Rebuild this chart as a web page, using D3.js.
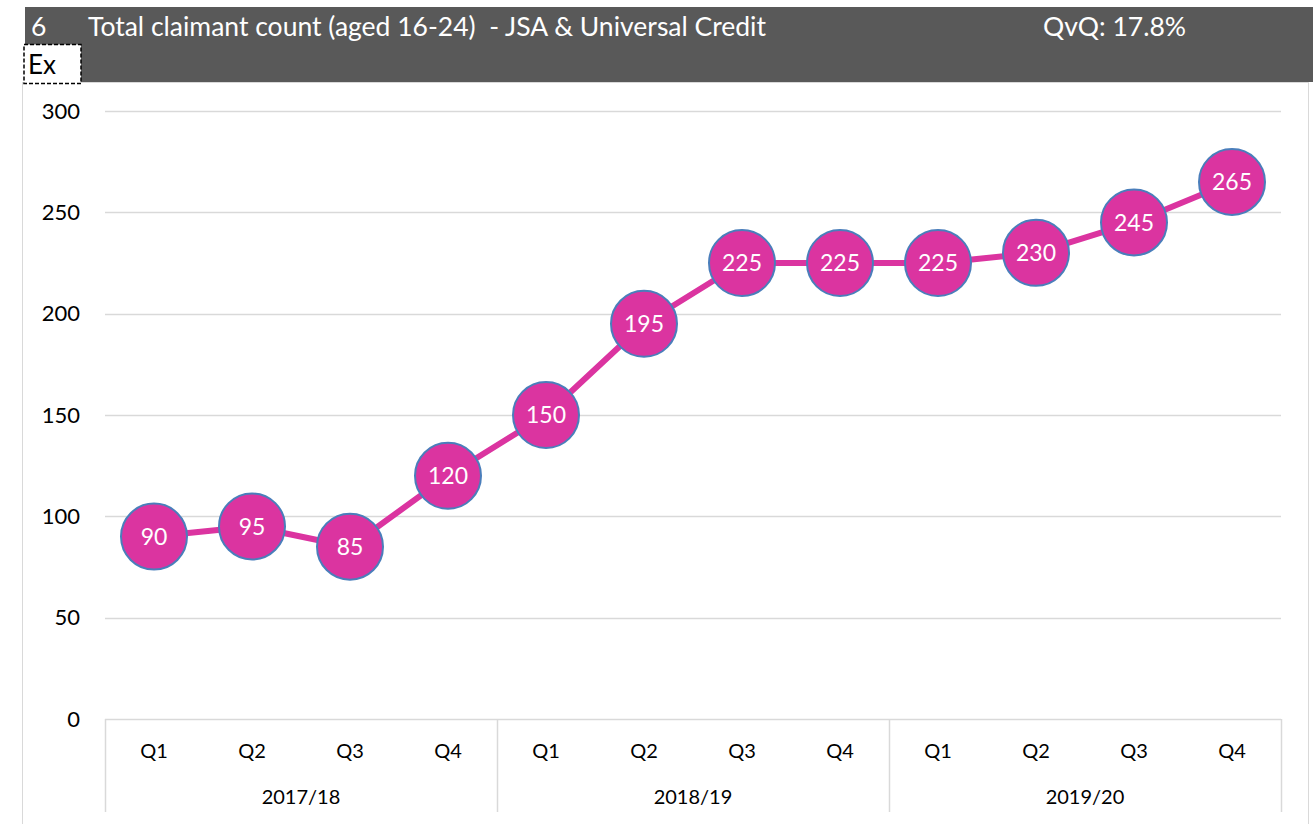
<!DOCTYPE html>
<html lang="en">
<head>
    <meta charset="UTF-8">
    <title>Total claimant count</title>
    <script src="https://cdn.jsdelivr.net/npm/d3@7"></script>
    <style>
        body { margin: 0; background: #fff; font-family: Lato, "Open Sans", sans-serif; }
    </style>
</head>
<body>
<svg id="chart" width="1313" height="824"></svg>
<script>
    var quarters = ["Q1", "Q2", "Q3", "Q4", "Q1", "Q2", "Q3", "Q4", "Q1", "Q2", "Q3", "Q4"];
    var years = ["2017/18", "2018/19", "2019/20"];
    var claimants = [90, 95, 85, 120, 150, 195, 225, 225, 225, 230, 245, 265];
    var yTicks = [0, 50, 100, 150, 200, 250, 300];

    var svg = d3.select("#chart");

    // frame of the chart area
    svg.append("rect")
        .attr("x", 22.5).attr("y", 82.5)
        .attr("width", 1286).attr("height", 760)
        .attr("fill", "#fff").attr("stroke", "#d9d9d9");

    // header bar
    svg.append("rect")
        .attr("x", 25).attr("y", 7)
        .attr("width", 1288).attr("height", 75)
        .attr("fill", "#595959");

    svg.append("text").attr("x", 31).attr("y", 36)
        .attr("fill", "#fff").attr("font-size", 26.5).text("6");
    svg.append("text").attr("x", 88).attr("y", 36)
        .attr("fill", "#fff").attr("font-size", 26.5)
        .attr("xml:space", "preserve")
        .text("Total claimant count (aged 16-24)  - JSA & Universal Credit");
    svg.append("text").attr("x", 1043).attr("y", 36)
        .attr("fill", "#fff").attr("font-size", 26.5).text("QvQ: 17.8%");

    // "Ex" box
    svg.append("rect")
        .attr("x", 24).attr("y", 44.5)
        .attr("width", 57).attr("height", 39)
        .attr("fill", "#fff").attr("stroke", "#000")
        .attr("stroke-width", 1.5).attr("stroke-dasharray", "4,2");
    svg.append("text").attr("x", 28).attr("y", 74)
        .attr("fill", "#000").attr("font-size", 26).text("Ex");

    var x = d3.scaleBand()
        .domain(d3.range(quarters.length))
        .range([105, 1281]);

    var y = d3.scaleLinear()
        .domain([0, 300])
        .range([719, 111]);

    // gridlines
    svg.append("g").selectAll("line")
        .data(yTicks)
        .enter().append("line")
        .attr("x1", 105).attr("x2", 1281)
        .attr("y1", function (d) { return Math.round(y(d)) + 0.5; })
        .attr("y2", function (d) { return Math.round(y(d)) + 0.5; })
        .attr("stroke", "#d9d9d9").attr("stroke-width", 1.5);

    // y axis labels
    var yAxis = svg.append("g")
        .attr("transform", "translate(80,0)")
        .call(d3.axisLeft(y).tickValues(yTicks).tickSize(0).tickPadding(0));
    yAxis.select(".domain").remove();
    yAxis.selectAll("text")
        .attr("font-family", "Lato, 'Open Sans', sans-serif")
        .attr("font-size", 22).attr("fill", "#000");

    // quarter labels
    var xAxis = svg.append("g")
        .attr("transform", "translate(0,719)")
        .call(d3.axisBottom(x).tickSize(0).tickPadding(25)
            .tickFormat(function (i) { return quarters[i]; }));
    xAxis.select(".domain").remove();
    xAxis.selectAll("text")
        .attr("font-family", "Lato, 'Open Sans', sans-serif")
        .attr("font-size", 20).attr("fill", "#000");

    // year groups
    var perYear = quarters.length / years.length;
    var bw = x.bandwidth();
    var sepX = d3.range(years.length + 1).map(function (k) { return 105 + k * perYear * bw; });
    svg.append("g").selectAll("line")
        .data(sepX)
        .enter().append("line")
        .attr("x1", function (d) { return Math.round(d) + 0.5; })
        .attr("x2", function (d) { return Math.round(d) + 0.5; })
        .attr("y1", 719).attr("y2", 812)
        .attr("stroke", "#d9d9d9").attr("stroke-width", 1.5);

    svg.append("g").selectAll("text")
        .data(years)
        .enter().append("text")
        .attr("x", function (d, k) { return (sepX[k] + sepX[k + 1]) / 2; })
        .attr("y", 804)
        .attr("text-anchor", "middle")
        .attr("font-size", 20).attr("fill", "#000")
        .text(function (d) { return d; });

    // line
    var cx = function (d, i) { return x(i) + bw / 2; };
    var line = d3.line()
        .x(cx)
        .y(function (d) { return y(d); });

    svg.append("path")
        .datum(claimants)
        .attr("fill", "none")
        .attr("stroke", "#DB34A0")
        .attr("stroke-width", 6)
        .attr("stroke-linejoin", "round")
        .attr("d", line);

    // markers with labels
    var pts = svg.append("g").selectAll("g")
        .data(claimants)
        .enter().append("g")
        .attr("transform", function (d, i) { return "translate(" + cx(d, i) + "," + y(d) + ")"; });

    pts.append("circle")
        .attr("r", 33)
        .attr("fill", "#DB34A0")
        .attr("stroke", "#4A7EBB")
        .attr("stroke-width", 2);

    pts.append("text")
        .attr("text-anchor", "middle")
        .attr("dy", "0.36em")
        .attr("font-size", 23)
        .attr("fill", "#fff")
        .text(function (d) { return d; });
</script>
</body>
</html>
